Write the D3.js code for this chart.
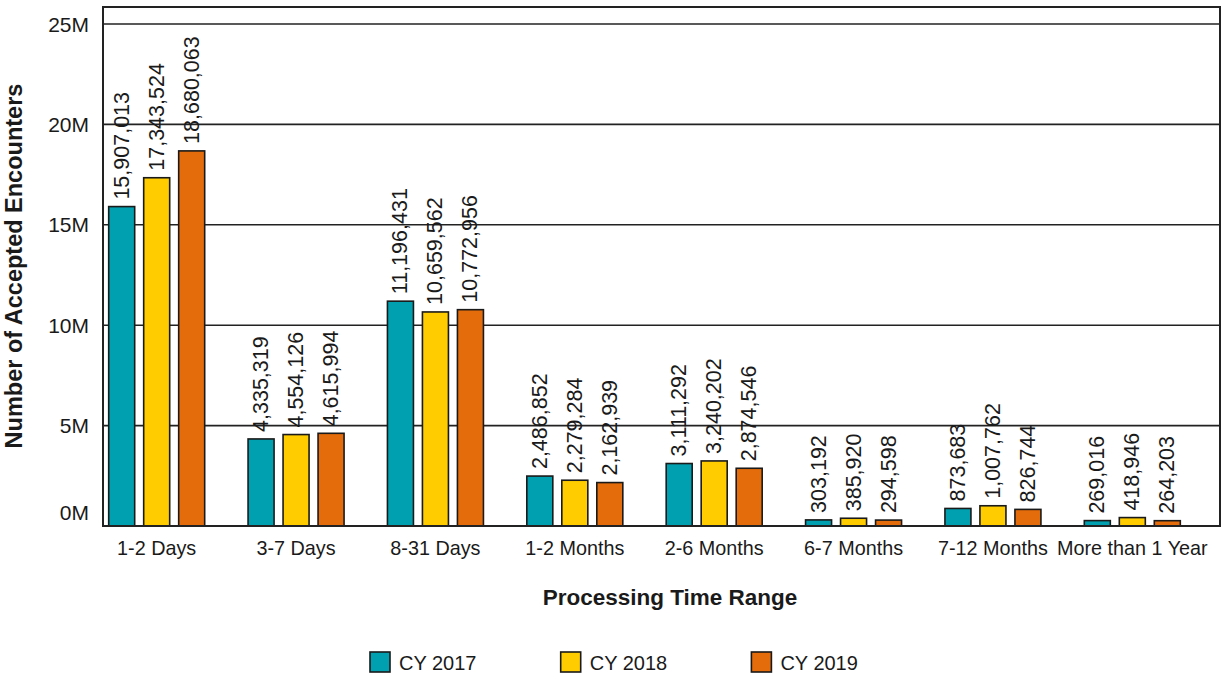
<!DOCTYPE html>
<html>
<head>
<meta charset="utf-8">
<script src="https://cdn.jsdelivr.net/npm/d3@7"></script>
<style>
  html, body { margin: 0; padding: 0; background: #fff; }
  svg { display: block; font-family: "Liberation Sans", Arial, sans-serif; }
</style>
</head>
<body>
<svg id="chart" width="1225" height="677"></svg>
<script>
// Processing time buckets and accepted encounter counts per calendar year
const categories = ["1-2 Days", "3-7 Days", "8-31 Days", "1-2 Months", "2-6 Months", "6-7 Months", "7-12 Months", "More than 1 Year"];
const seriesNames = ["CY 2017", "CY 2018", "CY 2019"];
const cy2017 = [15907013, 4335319, 11196431, 2486852, 3111292, 303192, 873683, 269016];
const cy2018 = [17343524, 4554126, 10659562, 2279284, 3240202, 385920, 1007762, 418946];
const cy2019 = [18680063, 4615994, 10772956, 2162939, 2874546, 294598, 826744, 264203];
const yTicks = [0, 5e6, 10e6, 15e6, 20e6, 25e6];
const colors = ["#00a0b0", "#ffcc00", "#e46c0a"];

const series = [cy2017, cy2018, cy2019];
const rows = categories.map((c, i) => ({ cat: c, values: series.map((s, j) => ({ key: seriesNames[j], idx: j, v: s[i] })) }));

const svg = d3.select("#chart");
const frame = { left: 103, right: 1220, top: 7, bottom: 526 };

const y = d3.scaleLinear().domain([0, 25e6]).range([526, 24]);
const x = d3.scaleBand().domain(categories).range([87, 1202]).paddingInner(0).paddingOuter(0);
const xs = d3.scaleBand().domain(seriesNames).range([-48, 48]).paddingInner(0.257);

const textColor = "#1a1a1a";

// Horizontal gridlines
svg.append("g").selectAll("line").data(yTicks.filter(t => t > 0)).join("line")
  .attr("x1", frame.left).attr("x2", frame.right)
  .attr("y1", d => y(d)).attr("y2", d => y(d))
  .attr("stroke", "#222").attr("stroke-width", 1.6);

// Y tick labels
svg.append("g").selectAll("text").data(yTicks).join("text")
  .attr("x", 89)
  .attr("y", d => Math.min(y(d), frame.bottom - 14))
  .attr("text-anchor", "end")
  .attr("dominant-baseline", "central")
  .attr("font-size", 21)
  .attr("fill", textColor)
  .text(d => d3.format("d")(d / 1e6) + "M");

// Bars
const groups = svg.append("g").selectAll("g").data(rows).join("g")
  .attr("transform", d => `translate(${x(d.cat) + x.bandwidth() / 2},0)`);

groups.selectAll("rect").data(d => d.values).join("rect")
  .attr("x", d => xs(d.key))
  .attr("width", xs.bandwidth())
  .attr("y", d => y(d.v))
  .attr("height", d => y(0) - y(d.v))
  .attr("fill", d => colors[d.idx])
  .attr("stroke", "#1a1a1a")
  .attr("stroke-width", 1.6);

// Value labels, rotated above each bar
groups.selectAll("text.val").data(d => d.values).join("text")
  .attr("class", "val")
  .attr("transform", d => `translate(${xs(d.key) + xs.bandwidth() / 2},${y(d.v) - 7}) rotate(-90)`)
  .attr("dominant-baseline", "central")
  .attr("font-size", 21.5)
  .attr("fill", textColor)
  .text(d => d3.format(",")(d.v));

// Plot frame
svg.append("rect")
  .attr("x", frame.left).attr("y", frame.top)
  .attr("width", frame.right - frame.left).attr("height", frame.bottom - frame.top)
  .attr("fill", "none").attr("stroke", "#222").attr("stroke-width", 2);

// Category labels
svg.append("g").selectAll("text").data(categories).join("text")
  .attr("x", d => x(d) + x.bandwidth() / 2)
  .attr("y", 555)
  .attr("text-anchor", "middle")
  .attr("font-size", 19.8)
  .attr("fill", textColor)
  .text(d => d);

// Axis titles
svg.append("text")
  .attr("x", 670).attr("y", 605)
  .attr("text-anchor", "middle")
  .attr("font-size", 22.5).attr("font-weight", "bold")
  .attr("fill", textColor)
  .text("Processing Time Range");

svg.append("text")
  .attr("transform", "translate(14,266) rotate(-90)")
  .attr("text-anchor", "middle")
  .attr("dominant-baseline", "central")
  .attr("font-size", 23.5).attr("font-weight", "bold")
  .attr("fill", textColor)
  .text("Number of Accepted Encounters");

// Legend
const legend = svg.append("g").selectAll("g").data(seriesNames).join("g")
  .attr("transform", (d, i) => `translate(${370 + i * 190.7},652)`);
legend.append("rect")
  .attr("width", 20).attr("height", 20)
  .attr("fill", (d, i) => colors[i])
  .attr("stroke", "#1a1a1a").attr("stroke-width", 1.6);
legend.append("text")
  .attr("x", 29).attr("y", 17.5)
  .attr("font-size", 20)
  .attr("fill", textColor)
  .text(d => d);
</script>
</body>
</html>
